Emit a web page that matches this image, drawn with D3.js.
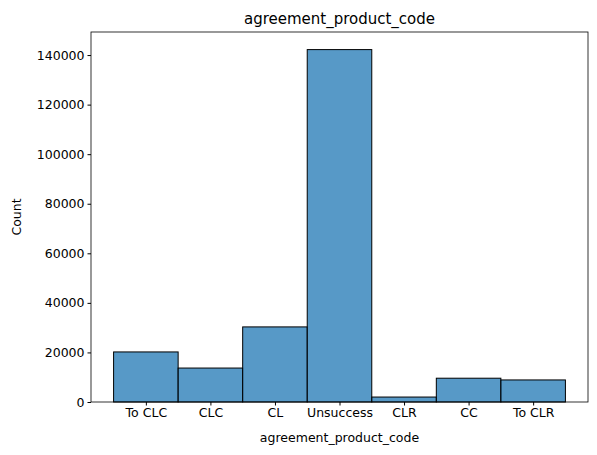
<!DOCTYPE html>
<html><head><meta charset="utf-8">
<script src="https://cdn.jsdelivr.net/npm/d3@7"></script>
<style>body{margin:0;background:#fff;font-family:"DejaVu Sans",sans-serif;}</style>
</head><body><svg id="c" width="597" height="455"></svg>
<script>
const categories = ["To CLC","CLC","CL","Unsuccess","CLR","CC","To CLR"];
const counts = [20200,13700,30300,142200,2000,9600,8900];
const yTicks = [0,20000,40000,60000,80000,100000,120000,140000];

const svg = d3.select("#c");
const L=91,R=588,T=32,B=402;
const x = d3.scaleLinear().domain([-0.85,6.85]).range([L,R]);
const y = d3.scaleLinear().domain([0,149300]).range([B,T]);

svg.selectAll("rect.bar").data(counts).enter().append("rect")
 .attr("x",(d,i)=>x(i-0.5)).attr("width",(d,i)=>x(i+0.5)-x(i-0.5))
 .attr("y",d=>y(d)).attr("height",d=>B-y(d))
 .attr("fill","rgba(31,119,180,0.75)").attr("stroke","#000").attr("stroke-width",1);

const ya = svg.append("g").attr("transform",`translate(${L},0)`)
 .call(d3.axisLeft(y).tickValues(yTicks).tickFormat(d3.format("d")).tickSize(3.5).tickSizeOuter(0));
const xa = svg.append("g").attr("transform",`translate(0,${B})`)
 .call(d3.axisBottom(x).tickValues(d3.range(categories.length)).tickFormat(i=>categories[i]).tickSize(3.5).tickSizeOuter(0));
[ya,xa].forEach(a=>{a.selectAll("text").attr("font-size",12.5).attr("fill","#000").attr("font-family","DejaVu Sans");a.select(".domain").remove();});
svg.append("rect").attr("x",L).attr("y",T).attr("width",R-L).attr("height",B-T).attr("fill","none").attr("stroke","#000").attr("stroke-width",0.8);

svg.append("text").attr("x",(L+R)/2).attr("y",24).attr("text-anchor","middle").attr("font-size",15).text("agreement_product_code");
svg.append("text").attr("x",(L+R)/2).attr("y",442).attr("text-anchor","middle").attr("font-size",12.5).text("agreement_product_code");
svg.append("text").attr("transform",`translate(21,${(T+B)/2}) rotate(-90)`).attr("text-anchor","middle").attr("font-size",12.5).text("Count");
</script></body></html>
